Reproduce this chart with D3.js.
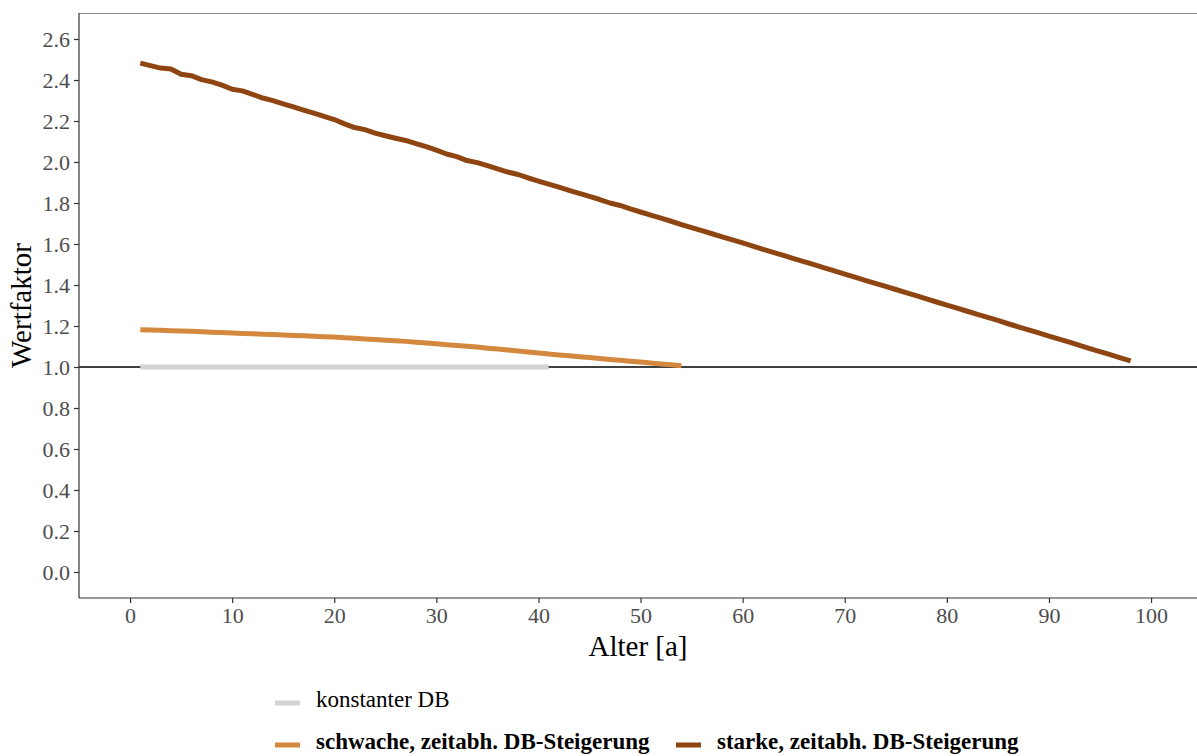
<!DOCTYPE html>
<html><head><meta charset="utf-8">
<script src="https://cdn.jsdelivr.net/npm/d3@7"></script>
<style>body{margin:0;background:#fff}svg{display:block}</style>
</head><body>
<svg id="c" width="1197" height="756"></svg>
<script>
const ages = d3.range(1, 99);
const konstant = [1,1,1,1,1,1,1,1,1,1,1,1,1,1,1,1,1,1,1,1,1,1,1,1,1,1,1,1,1,1,1,1,1,1,1,1,1,1,1,1,1];
const schwach = [1.182,1.180,1.179,1.177,1.176,1.174,1.172,1.170,1.168,1.166,1.164,1.162,1.160,1.158,1.156,1.154,1.152,1.150,1.148,1.146,1.143,1.140,1.137,1.134,1.131,1.128,1.125,1.121,1.117,1.113,1.109,1.105,1.101,1.097,1.092,1.088,1.083,1.078,1.073,1.068,1.063,1.059,1.055,1.050,1.046,1.042,1.037,1.033,1.028,1.024,1.020,1.015,1.011,1.006];
const stark = [2.482,2.470,2.458,2.454,2.428,2.421,2.402,2.391,2.375,2.355,2.347,2.330,2.312,2.299,2.284,2.269,2.253,2.238,2.223,2.207,2.186,2.168,2.158,2.141,2.128,2.116,2.105,2.090,2.075,2.058,2.039,2.026,2.007,1.997,1.982,1.966,1.951,1.939,1.922,1.907,1.892,1.877,1.862,1.847,1.832,1.817,1.800,1.788,1.771,1.756,1.741,1.726,1.711,1.695,1.680,1.665,1.650,1.635,1.620,1.605,1.590,1.574,1.559,1.544,1.529,1.514,1.499,1.484,1.469,1.453,1.438,1.423,1.408,1.393,1.378,1.363,1.348,1.332,1.317,1.302,1.287,1.272,1.257,1.242,1.227,1.211,1.196,1.181,1.166,1.151,1.136,1.121,1.106,1.090,1.075,1.060,1.045,1.030];
const xTicks = [0,10,20,30,40,50,60,70,80,90,100];
const yTicks = [0,0.2,0.4,0.6,0.8,1.0,1.2,1.4,1.6,1.8,2.0,2.2,2.4,2.6];
const seriesNames = ["konstanter DB","schwache, zeitabh. DB-Steigerung","starke, zeitabh. DB-Steigerung"];
const seriesColors = ["#d3d3d3","#d4883e","#8f4511"];

const svg = d3.select("#c");
const L = 79, R = 1197, T = 13, B = 598;
const x = d3.scaleLinear().domain([-5, 104.5]).range([L, R]);
const y = d3.scaleLinear().domain([-0.1268, 2.7268]).range([B, T]);
const font = "'Liberation Serif','Times New Roman',serif";

svg.append("line").attr("x1", L).attr("x2", R).attr("y1", y(1)).attr("y2", y(1))
  .attr("stroke", "#000").attr("stroke-width", 1.4);

const line = d3.line().x(d => x(d[0])).y(d => y(d[1]));
const data = [konstant, schwach, stark];
data.forEach((vals, i) => {
  svg.append("path").datum(vals.map((v, j) => [ages[j], v]))
    .attr("d", line).attr("fill", "none").attr("stroke", seriesColors[i])
    .attr("stroke-width", 5).attr("stroke-linejoin", "round");
});

svg.append("line").attr("x1", L).attr("x2", R).attr("y1", T + 0.5).attr("y2", T + 0.5)
  .attr("stroke", "#8a8a8a").attr("stroke-width", 1);

const xAxis = svg.append("g").attr("transform", `translate(0,${B})`)
  .call(d3.axisBottom(x).tickValues(xTicks).tickSize(5).tickPadding(4).tickFormat(d3.format("d")));
const yAxis = svg.append("g").attr("transform", `translate(${L},0)`)
  .call(d3.axisLeft(y).tickValues(yTicks).tickSize(5).tickPadding(4).tickFormat(d3.format(".1f")));
[xAxis, yAxis].forEach(g => {
  g.select(".domain").attr("stroke", "#333").attr("stroke-width", 1.2);
  g.selectAll(".tick line").attr("stroke", "#333").attr("stroke-width", 1.2);
  g.selectAll(".tick text").attr("fill", "#4d4d4d").style("font-family", font).style("font-size", "22px");
});
xAxis.select(".domain").attr("d", `M${L},0H${R}`);
yAxis.select(".domain").attr("d", `M0,${B}V${T}`);

svg.append("text").attr("x", (L + R) / 2).attr("y", 656).attr("text-anchor", "middle")
  .style("font-family", font).style("font-size", "29px").attr("fill", "#000").text("Alter [a]");
svg.append("text").attr("transform", `translate(31,${(T + B) / 2}) rotate(-90)`).attr("text-anchor", "middle")
  .style("font-family", font).style("font-size", "29px").attr("fill", "#000").text("Wertfaktor");

const leg = [
  {i: 0, kx: 275, ty: 703, bold: false},
  {i: 1, kx: 275, ty: 745, bold: true},
  {i: 2, kx: 676, ty: 745, bold: true}
];
leg.forEach(l => {
  svg.append("line").attr("x1", l.kx).attr("x2", l.kx + 25).attr("y1", l.ty).attr("y2", l.ty)
    .attr("stroke", seriesColors[l.i]).attr("stroke-width", 5);
  svg.append("text").attr("x", l.kx + 41).attr("y", l.ty - 4).attr("dy", "0.35em")
    .style("font-family", font).style("font-size", "23px").style("font-weight", l.bold ? "bold" : "normal")
    .attr("fill", "#000").text(seriesNames[l.i]);
});
</script>
</body></html>
